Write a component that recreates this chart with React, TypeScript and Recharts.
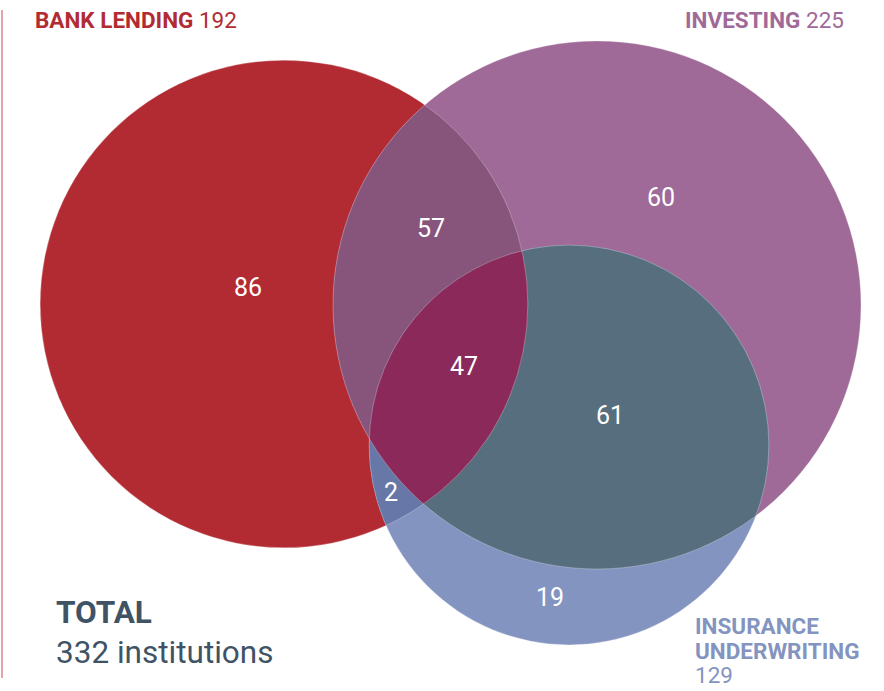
import React from "react";
import { ScatterChart, Scatter, XAxis, YAxis, ZAxis } from "recharts";

// Sets and their totals
const SET_KEYS = ["bank", "investing", "insurance"];
const SET_NAMES = ["BANK LENDING", "INVESTING", "INSURANCE UNDERWRITING"];
const SET_TOTALS = [192, 225, 129];

// Exclusive region counts (sum = 332)
const REGION_KEYS = ["bank", "bank+investing", "investing", "all", "investing+insurance", "bank+insurance", "insurance"];
const REGION_COUNTS = [86, 57, 60, 47, 61, 2, 19];
const TOTAL_INSTITUTIONS = 332;

// Layout (chart units == pixels)
const WIDTH = 884;
const HEIGHT = 691;
const SET_CENTERS: [number, number][] = [
  [284, 304],
  [597, 305],
  [569, 445],
];
const LABEL_POSITIONS: [number, number][] = [
  [248, 287],
  [431, 228],
  [661, 197],
  [464, 366],
  [610, 415],
  [391, 492],
  [550, 597],
];
const MAX_RADIUS = 264; // radius of the largest set (225)

const SET_COLORS: Record<string, string> = {
  bank: "#b22b33",
  investing: "#a06a98",
  insurance: "#8494c0",
};
const OVERLAP_COLORS: Record<string, string> = {
  "bank+investing": "#87557c",
  "bank+insurance": "#6777a7",
  "investing+insurance": "#566e7e",
  all: "#8b2a5a",
};

const setData = SET_KEYS.map((key, i) => ({
  key,
  x: SET_CENTERS[i][0],
  y: SET_CENTERS[i][1],
  size: SET_TOTALS[i],
}));

// each overlap is drawn as one circle clipped by the others
const overlapDefs: { key: string; circle: number; clips: string[] }[] = [
  { key: "bank+investing", circle: 1, clips: ["bank"] },
  { key: "bank+insurance", circle: 2, clips: ["bank"] },
  { key: "investing+insurance", circle: 2, clips: ["investing"] },
  { key: "all", circle: 2, clips: ["bank", "investing"] },
];
const overlapData = overlapDefs.map((d) => ({
  key: d.key,
  clips: d.clips,
  x: SET_CENTERS[d.circle][0],
  y: SET_CENTERS[d.circle][1],
  size: SET_TOTALS[d.circle],
}));

const labelData = REGION_KEYS.map((key, i) => ({
  key,
  x: LABEL_POSITIONS[i][0],
  y: LABEL_POSITIONS[i][1],
  count: REGION_COUNTS[i],
}));

const SetShape = (props: any) => {
  const { cx, cy, width, payload } = props;
  const r = width / 2;
  return (
    <g>
      <defs>
        <clipPath id={`clip-${payload.key}`}>
          <circle cx={cx} cy={cy} r={r} />
        </clipPath>
      </defs>
      <circle cx={cx} cy={cy} r={r} fill={SET_COLORS[payload.key]} />
    </g>
  );
};

const OverlapShape = (props: any) => {
  const { cx, cy, width, payload } = props;
  const r = width / 2;
  let node: React.ReactNode = <circle cx={cx} cy={cy} r={r} fill={OVERLAP_COLORS[payload.key]} />;
  (payload.clips as string[]).forEach((c) => {
    node = <g clipPath={`url(#clip-${c})`}>{node}</g>;
  });
  return <g>{node}</g>;
};

const OutlineShape = (props: any) => {
  const { cx, cy, width } = props;
  return (
    <circle cx={cx} cy={cy} r={width / 2} fill="none" stroke="#ffffff" strokeOpacity={0.35} strokeWidth={0.8} />
  );
};

const LabelShape = (props: any) => {
  const { cx, cy, payload } = props;
  return (
    <text x={cx} y={cy} textAnchor="middle" dominantBaseline="central" fill="#ffffff" fontSize={25} fontFamily="Roboto, sans-serif">
      {payload.count}
    </text>
  );
};

const titleBase: React.CSSProperties = {
  position: "absolute",
  fontFamily: "Roboto, sans-serif",
  fontSize: 22.5,
  lineHeight: "26px",
  whiteSpace: "nowrap",
};

export default function App() {
  return (
    <div style={{ position: "absolute", left: 0, top: 0, width: WIDTH, height: HEIGHT, background: "#fff" }}>
      <div style={{ position: "absolute", left: 1, top: 10, width: 2, height: 668, background: "#e4a3aa" }} />
      <ScatterChart width={WIDTH} height={HEIGHT} margin={{ top: 0, right: 0, bottom: 0, left: 0 }}>
        <XAxis type="number" dataKey="x" domain={[0, WIDTH]} hide />
        <YAxis type="number" dataKey="y" domain={[0, HEIGHT]} reversed hide />
        <ZAxis type="number" dataKey="size" domain={[0, 225]} range={[0, Math.PI * MAX_RADIUS * MAX_RADIUS]} />
        <Scatter data={setData} shape={<SetShape />} isAnimationActive={false} />
        <Scatter data={overlapData} shape={<OverlapShape />} isAnimationActive={false} />
        <Scatter data={setData} shape={<OutlineShape />} isAnimationActive={false} />
        <Scatter data={labelData} shape={<LabelShape />} isAnimationActive={false} />
      </ScatterChart>

      <div style={{ ...titleBase, left: 35, top: 7, color: SET_COLORS.bank }}>
        <b>{SET_NAMES[0]}</b> {SET_TOTALS[0]}
      </div>
      <div style={{ ...titleBase, left: 685, top: 7, color: SET_COLORS.investing }}>
        <b>{SET_NAMES[1]}</b> {SET_TOTALS[1]}
      </div>
      <div style={{ ...titleBase, left: 695, top: 614, lineHeight: "24.5px", color: SET_COLORS.insurance }}>
        <b>
          INSURANCE
          <br />
          UNDERWRITING
        </b>
        <br />
        {SET_TOTALS[2]}
      </div>
      <div style={{ position: "absolute", left: 56, top: 593, fontFamily: "Roboto, sans-serif", color: "#405365", lineHeight: "40px", fontSize: 31.5 }}>
        <div style={{ fontWeight: 700 }}>TOTAL</div>
        <div>{TOTAL_INSTITUTIONS} institutions</div>
      </div>
    </div>
  );
}
